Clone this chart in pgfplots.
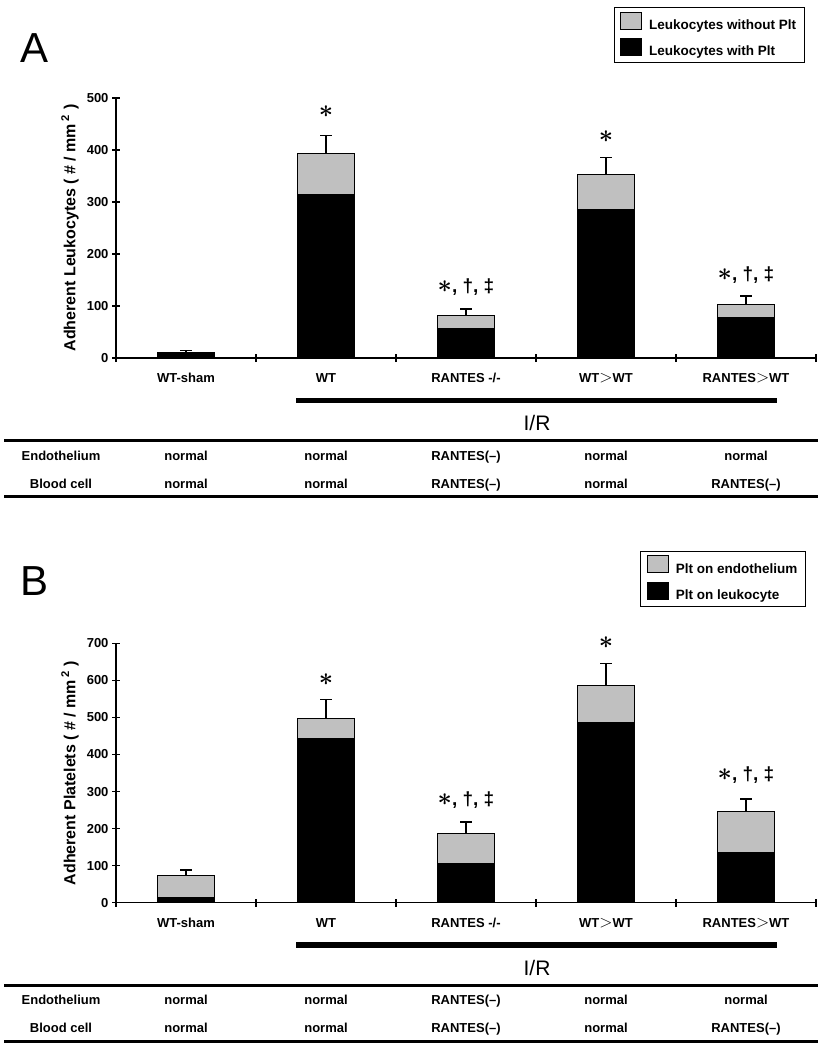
\documentclass[border=0pt]{standalone}
\usepackage{pgfplots}
\usepackage{pgfplotstable}
\pgfplotsset{compat=1.18}
\usepackage{fontspec}
\setmainfont{Liberation Sans}
\definecolor{barGray}{RGB}{192,192,192}

\pgfplotstableread{
x total withplt err
0 11  11  4
1 393 315 35
2 81  57  13
3 353 286 32
4 103 78  16
}\dataA
\pgfplotstableread{
x total withplt err
0 74  13  14
1 496 443 52
2 186 105 32
3 587 486 58
4 247 136 33
}\dataB

\newcommand{\sig}{{\fontsize{28}{28}\selectfont\boldmath$\ast$}}
\newcommand{\sigthree}{{\fontsize{28}{28}\selectfont\boldmath$\ast$}{\bfseries\fontsize{19}{19}\selectfont, †, ‡}}
\newcommand{\gt}{{\fontsize{16}{16}\selectfont$>$}}

\pgfplotsset{
  panel/.style={
    scale only axis, width=700pt,
    xmin=-0.5, xmax=4.5, ymin=0,
    axis lines*=left,
    axis line style={line width=1.3pt},
    tick style={black, line width=1.3pt},
    tick align=center, major tick length=8pt,
    xtick={-0.5,0.5,1.5,2.5,3.5,4.5}, xticklabels={,,,,,},
    extra x ticks={0,1,2,3,4},
    extra x tick labels={WT-sham,WT,RANTES -/-,WT\gt WT,RANTES\gt WT},
    extra x tick style={major tick length=0pt},
    xticklabel style={yshift=-12pt},
    ticklabel style={font=\bfseries\fontsize{13}{13}\selectfont},
    /pgf/number format/assume math mode=true,
    ylabel style={font=\bfseries\fontsize{16}{16}\selectfont, at={(axis description cs:-0.0657,0.5)}, anchor=center},
    clip=false,
    legend cell align=left,
    legend style={anchor=north west, draw=black, line width=1pt,
      font=\bfseries\fontsize{13.5}{16}\selectfont, row sep=5pt,
      inner xsep=6pt, inner ysep=4pt,
      /tikz/every odd column/.append style={column sep=5pt}},
  },
  greybar/.style={ybar, bar width=57pt, bar shift=0pt, fill=barGray, draw=black, line width=1.1pt,
    legend image code/.code={\draw[fill=barGray,draw=black,line width=1pt] (0pt,-4pt) rectangle (21pt,13pt);},
    error bars/.cd, y dir=plus, y explicit,
    error bar style={line width=1.3pt, black},
    error mark options={rotate=90, line width=1.3pt, mark size=6pt, black}},
  blackbar/.style={ybar, bar width=57pt, bar shift=0pt, fill=black, draw=black, line width=1.1pt,
    legend image code/.code={\draw[fill=black,draw=black,line width=1pt] (0pt,-4pt) rectangle (21pt,13pt);}},
}

\begin{document}
\begin{tikzpicture}
\useasboundingbox (0,0) rectangle (824pt,-1050pt);

% ---------- Panel A ----------
\node[anchor=base west, inner sep=0pt, font=\fontsize{42}{42}\selectfont] at (20pt,-62pt) {A};
\begin{axis}[panel, at={(116pt,-358pt)}, anchor=south west, height=260pt,
  ymax=500, ytick={0,100,...,500},
  ylabel={Adherent Leukocytes ( \# / mm\,\textsuperscript{2} )},
  legend style={at={(0.711,1.35)}}]
\addplot[greybar] table[x=x, y=total, y error=err] {\dataA};
\addlegendentry{Leukocytes without Plt}
\addplot[blackbar] table[x=x, y=withplt] {\dataA};
\addlegendentry{Leukocytes with Plt}
\node at (axis cs:1,473) {\sig};
\node at (axis cs:3,425) {\sig};
\node at (axis cs:2,137) {\sigthree};
\node at (axis cs:4,160) {\sigthree};
\end{axis}

\fill (296pt,-397.7pt) rectangle (777pt,-403.3pt);
\node[anchor=base, font=\fontsize{21}{21}\selectfont] at (537pt,-430.5pt) {I/R};
\draw[line width=3pt] (4pt,-440pt) -- (818pt,-440pt);
\draw[line width=3pt] (4pt,-496pt) -- (818pt,-496pt);
\begin{scope}[every node/.style={anchor=base, font=\bfseries\fontsize{13}{13}\selectfont}]
\node at (61pt,-460pt) {Endothelium};
\node at (186pt,-460pt) {normal};
\node at (326pt,-460pt) {normal};
\node at (466pt,-460pt) {RANTES(–)};
\node at (606pt,-460pt) {normal};
\node at (746pt,-460pt) {normal};
\node at (61pt,-488pt) {Blood cell};
\node at (186pt,-488pt) {normal};
\node at (326pt,-488pt) {normal};
\node at (466pt,-488pt) {RANTES(–)};
\node at (606pt,-488pt) {normal};
\node at (746pt,-488pt) {RANTES(–)};
\end{scope}

% ---------- Panel B ----------
\node[anchor=base west, inner sep=0pt, font=\fontsize{42}{42}\selectfont] at (20pt,-595pt) {B};
\begin{axis}[panel, at={(116pt,-902.7pt)}, anchor=south west, height=259.4pt,
  ymax=700, ytick={0,100,...,700},
  ylabel={Adherent Platelets ( \# / mm\,\textsuperscript{2} )},
  legend style={at={(0.749,1.356)}}]
\addplot[greybar] table[x=x, y=total, y error=err] {\dataB};
\addlegendentry{Plt on endothelium}
\addplot[blackbar] table[x=x, y=withplt] {\dataB};
\addlegendentry{Plt on leukocyte}
\node at (axis cs:1,603) {\sig};
\node at (axis cs:3,701) {\sig};
\node at (axis cs:2,277) {\sigthree};
\node at (axis cs:4,345) {\sigthree};
\end{axis}

\fill (296pt,-941.7pt) rectangle (777pt,-948.3pt);
\node[anchor=base, font=\fontsize{21}{21}\selectfont] at (537pt,-975.5pt) {I/R};
\draw[line width=3pt] (4pt,-985pt) -- (818pt,-985pt);
\draw[line width=3pt] (4pt,-1041.7pt) -- (818pt,-1041.7pt);
\begin{scope}[every node/.style={anchor=base, font=\bfseries\fontsize{13}{13}\selectfont}]
\node at (61pt,-1004pt) {Endothelium};
\node at (186pt,-1004pt) {normal};
\node at (326pt,-1004pt) {normal};
\node at (466pt,-1004pt) {RANTES(–)};
\node at (606pt,-1004pt) {normal};
\node at (746pt,-1004pt) {normal};
\node at (61pt,-1032.3pt) {Blood cell};
\node at (186pt,-1032.3pt) {normal};
\node at (326pt,-1032.3pt) {normal};
\node at (466pt,-1032.3pt) {RANTES(–)};
\node at (606pt,-1032.3pt) {normal};
\node at (746pt,-1032.3pt) {RANTES(–)};
\end{scope}
\end{tikzpicture}
\end{document}
